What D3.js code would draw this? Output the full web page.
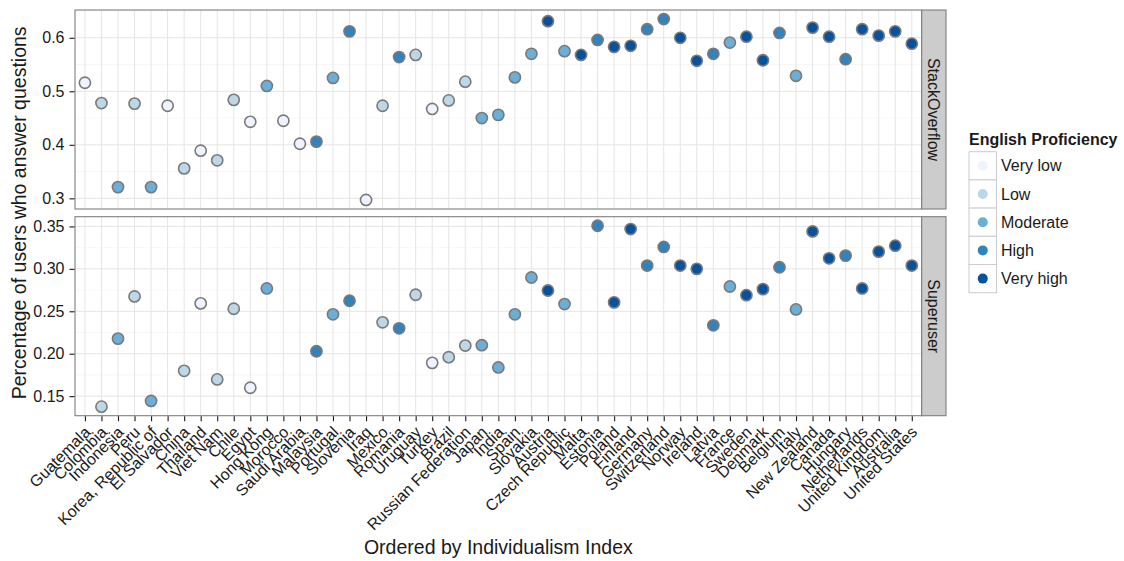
<!DOCTYPE html>
<html>
<head>
<meta charset="utf-8">
<script src="https://cdn.jsdelivr.net/npm/d3@7"></script>
<style>
  body { margin: 0; background: #fff; }
  svg text { font-family: "Liberation Sans", Arial, Helvetica, sans-serif; fill: #1a1a1a; }
</style>
</head>
<body>
<svg id="chart" width="1124" height="561"></svg>
<script>
// countries, ordered by individualism index
const countries = ["Guatemala","Colombia","Indonesia","Peru","Korea, Republic of","El Salvador","China","Thailand","Viet Nam","Chile","Egypt","Hong Kong","Morocco","Saudi Arabia","Malaysia","Portugal","Slovenia","Iraq","Mexico","Romania","Uruguay","Turkey","Brazil","Russian Federation","Japan","India","Spain","Slovakia","Austria","Czech Republic","Malta","Estonia","Poland","Finland","Germany","Switzerland","Norway","Ireland","Latvia","France","Sweden","Denmark","Belgium","Italy","New Zealand","Canada","Hungary","Netherlands","United Kingdom","Australia","United States"];

const proficiency = ["Very low","Low","Moderate","Low","Moderate","Very low","Low","Very low","Low","Low","Very low","Moderate","Very low","Very low","High","Moderate","High","Very low","Low","High","Low","Very low","Low","Low","Moderate","Moderate","Moderate","Moderate","Very high","Moderate","Very high","High","Very high","Very high","High","High","Very high","Very high","High","Moderate","Very high","Very high","High","Moderate","Very high","Very high","High","Very high","Very high","Very high","Very high"];

const stackoverflow = [0.516,0.478,0.321,0.477,0.321,0.473,0.356,0.389,0.371,0.484,0.443,0.510,0.445,0.402,0.406,0.525,0.612,0.297,0.473,0.564,0.568,0.467,0.483,0.518,0.450,0.456,0.526,0.570,0.631,0.575,0.568,0.596,0.583,0.585,0.616,0.635,0.600,0.557,0.570,0.591,0.602,0.558,0.609,0.529,0.619,0.602,0.560,0.616,0.604,0.612,0.589];

const superuser = [null,0.1376,0.2178,0.2675,0.1443,null,0.1798,0.2593,0.1697,0.2530,0.1599,0.2769,null,null,0.2029,0.2464,0.2624,null,0.2370,0.2299,0.2695,0.1892,0.1959,0.2096,0.2100,0.1838,0.2464,0.2898,0.2745,0.2585,null,0.3508,0.2605,0.3469,0.3039,0.3258,0.3039,0.3000,0.2335,0.2792,0.2690,0.2761,0.3019,0.2522,0.3441,0.3124,0.3156,0.2769,0.3203,0.3273,0.3039];

const levels = ["Very low","Low","Moderate","High","Very high"];
const levelColors = ["#eff3ff","#bdd7e7","#6baed6","#3182bd","#08519c"];

const facets = [
  {name: "StackOverflow", values: stackoverflow, top: 10, bottom: 209, fmt: ".1f"},
  {name: "Superuser", values: superuser, top: 216.7, bottom: 415.7, fmt: ".2f"}
];

const margin = {left: 75, right: 921.7};
const stripW = 24.3;

const svg = d3.select("#chart");

const x = d3.scalePoint()
  .domain(countries)
  .range([margin.left, margin.right])
  .padding(0.6);

const fill = d3.scaleOrdinal().domain(levels).range(levelColors);

facets.forEach((f, fi) => {
  const vals = f.values.filter(v => v != null);
  const [lo, hi] = d3.extent(vals);
  const pad = (hi - lo) * 0.05;
  const y = d3.scaleLinear().domain([lo - pad, hi + pad]).range([f.bottom, f.top]);
  const ticks = y.ticks(5);
  const step = ticks[1] - ticks[0];
  const minor = d3.range(ticks[0] - step / 2, hi + pad, step).filter(v => v > lo - pad);

  const g = svg.append("g");

  // panel background
  g.append("rect")
    .attr("x", margin.left).attr("y", f.top)
    .attr("width", margin.right - margin.left).attr("height", f.bottom - f.top)
    .attr("fill", "#fff");

  // minor grid
  g.selectAll(".minor").data(minor).enter().append("line")
    .attr("x1", margin.left).attr("x2", margin.right)
    .attr("y1", d => y(d)).attr("y2", d => y(d))
    .attr("stroke", "#f5f5f5").attr("stroke-width", 0.8);

  // major grid
  g.selectAll(".hmajor").data(ticks).enter().append("line")
    .attr("x1", margin.left).attr("x2", margin.right)
    .attr("y1", d => y(d)).attr("y2", d => y(d))
    .attr("stroke", "#e5e5e5").attr("stroke-width", 1);
  g.selectAll(".vmajor").data(countries).enter().append("line")
    .attr("x1", d => x(d)).attr("x2", d => x(d))
    .attr("y1", f.top).attr("y2", f.bottom)
    .attr("stroke", "#e5e5e5").attr("stroke-width", 1);

  // points
  const pts = countries.map((c, i) => ({c, v: f.values[i], p: proficiency[i]})).filter(d => d.v != null);
  g.selectAll("circle").data(pts).enter().append("circle")
    .attr("cx", d => x(d.c)).attr("cy", d => y(d.v))
    .attr("r", 5.6)
    .attr("fill", d => fill(d.p))
    .attr("stroke", "#7a7a7a").attr("stroke-width", 1.6);

  // panel border
  g.append("rect")
    .attr("x", margin.left).attr("y", f.top)
    .attr("width", margin.right - margin.left).attr("height", f.bottom - f.top)
    .attr("fill", "none").attr("stroke", "#7f7f7f").attr("stroke-width", 1.1);

  // y axis
  const yAxis = d3.axisLeft(y).tickValues(ticks).tickFormat(d3.format(f.fmt)).tickSize(5).tickPadding(5);
  const ya = svg.append("g").attr("transform", `translate(${margin.left - 0.5},0)`).call(yAxis);
  ya.select(".domain").remove();
  ya.selectAll(".tick line").attr("stroke", "#1a1a1a").attr("stroke-width", 1.1);
  ya.selectAll(".tick text").style("font-size", "16px").attr("fill", "#1a1a1a")
    .style("font-family", "'Liberation Sans', Arial, sans-serif");

  // strip
  svg.append("rect")
    .attr("x", margin.right).attr("y", f.top)
    .attr("width", stripW).attr("height", f.bottom - f.top)
    .attr("fill", "#cccccc").attr("stroke", "#7f7f7f").attr("stroke-width", 1.1);
  svg.append("text")
    .attr("transform", `translate(${margin.right + stripW / 2},${(f.top + f.bottom) / 2}) rotate(90)`)
    .attr("text-anchor", "middle").attr("dy", "0.35em")
    .style("font-size", "16px")
    .text(f.name);

  // x axis under the bottom panel
  if (fi === facets.length - 1) {
    const xAxis = d3.axisBottom(x).tickSize(5).tickPadding(2);
    const xa = svg.append("g").attr("transform", `translate(0,${f.bottom + 0.5})`).call(xAxis);
    xa.select(".domain").remove();
    xa.selectAll(".tick line").attr("stroke", "#1a1a1a").attr("stroke-width", 1.1);
    xa.selectAll(".tick text")
      .style("font-size", "16px").attr("fill", "#1a1a1a")
      .style("font-family", "'Liberation Sans', Arial, sans-serif")
      .attr("text-anchor", "end")
      .attr("dy", null)
      .attr("y", 0)
      .attr("transform", "translate(6,17) rotate(-45)");
  }
});

// axis titles
svg.append("text")
  .attr("x", (margin.left + margin.right) / 2).attr("y", 554)
  .attr("text-anchor", "middle").style("font-size", "19.5px")
  .text("Ordered by Individualism Index");

svg.append("text")
  .attr("transform", `translate(26,${(10 + 415.7) / 2}) rotate(-90)`)
  .attr("text-anchor", "middle").style("font-size", "19.5px")
  .text("Percentage of users who answer questions");

// legend
const lg = svg.append("g").attr("transform", "translate(969,0)");
lg.append("text").attr("x", 0).attr("y", 145)
  .style("font-size", "16px").style("font-weight", "bold")
  .text("English Proficiency");
const keyH = 28.2, keyW = 27.5, keyTop = 151.7;
const keys = lg.selectAll(".key").data(levels).enter().append("g")
  .attr("transform", (d, i) => `translate(0,${keyTop + i * keyH})`);
keys.append("rect").attr("width", keyW).attr("height", keyH)
  .attr("fill", "#fff").attr("stroke", "#cccccc").attr("stroke-width", 1);
keys.append("circle").attr("cx", keyW / 2).attr("cy", keyH / 2).attr("r", 5)
  .attr("fill", d => fill(d));
keys.append("text").attr("x", keyW + 4.5).attr("y", keyH / 2).attr("dy", "0.35em")
  .style("font-size", "16px").text(d => d);
</script>
</body>
</html>
